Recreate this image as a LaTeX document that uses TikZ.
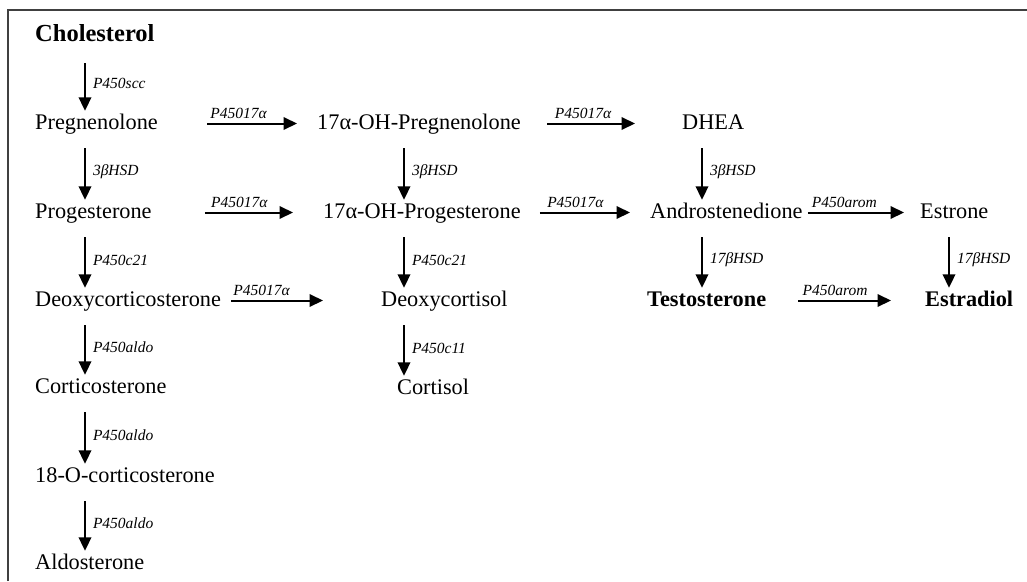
\documentclass[tikz,border=0pt]{standalone}
\usepackage{fontspec}
\setmainfont{Liberation Serif}
\usetikzlibrary{arrows.meta}
\begin{document}
\begin{tikzpicture}[x=1pt,y=-1pt,
  chem/.style={anchor=base west, inner sep=0pt, text height=16pt, text depth=5pt, font=\fontsize{22.3}{26}\selectfont},
  chemb/.style={chem, font=\fontsize{22.3}{26}\selectfont\bfseries},
  arr/.style={line width=2pt, -{Triangle[width=12.5pt,length=13.5pt]}},
  varr/.style={arr, shorten <=14pt, shorten >=2pt},
  enz/.style={font=\fontsize{15.5}{18}\selectfont\itshape, inner sep=0pt},
  venz/.style={enz, anchor=west, xshift=7pt, yshift=-3.5pt},
  henz/.style={enz, anchor=south, yshift=3.5pt}]
\useasboundingbox (0,0) rectangle (1027,581);
\draw[line width=1.2pt, black!75] (8,581) -- (8,10) -- (1027,10);

% compounds
\node[chem, font=\fontsize{24.5}{28}\selectfont\bfseries] (chol) at (35,41) {Cholesterol};
\node[chem] (preg) at (35,129) {Pregnenolone};
\node[chem] (prog) at (35,218) {Progesterone};
\node[chem] (doc) at (35,306) {Deoxycorticosterone};
\node[chem] (cort) at (35,393) {Corticosterone};
\node[chem] (ooc) at (35,482) {18-O-corticosterone};
\node[chem] (aldo) at (35,569) {Aldosterone};
\node[chem] (p17) at (317,129) {17α-OH-Pregnenolone};
\node[chem] (pg17) at (323,218) {17α-OH-Progesterone};
\node[chem] (dcol) at (381,306) {Deoxycortisol};
\node[chem] (cortisol) at (397,394) {Cortisol};
\node[chem] (dhea) at (682,129) {DHEA};
\node[chem] (andro) at (650,218) {Androstenedione};
\node[chemb] (testo) at (647,306) {Testosterone};
\node[chem] (estrone) at (920,218) {Estrone};
\node[chemb] (estradiol) at (925,306) {Estradiol};

% arrow columns
\coordinate (c1) at (85,0);
\coordinate (c2) at (404,0);
\coordinate (c3) at (702,0);
\coordinate (c4) at (949,0);

% vertical arrows
\draw[varr, shorten <=17pt] (chol.south -| c1) -- (preg.north -| c1) node[venz, midway]{P450scc};
\draw[varr] (preg.south -| c1) -- (prog.north -| c1) node[venz, midway]{3βHSD};
\draw[varr] (prog.south -| c1) -- (doc.north -| c1) node[venz, midway]{P450c21};
\draw[varr] (doc.south -| c1) -- (cort.north -| c1) node[venz, midway]{P450aldo};
\draw[varr] (cort.south -| c1) -- (ooc.north -| c1) node[venz, midway]{P450aldo};
\draw[varr] (ooc.south -| c1) -- (aldo.north -| c1) node[venz, midway]{P450aldo};
\draw[varr] (p17.south -| c2) -- (pg17.north -| c2) node[venz, midway]{3βHSD};
\draw[varr] (pg17.south -| c2) -- (dcol.north -| c2) node[venz, midway]{P450c21};
\draw[varr] (dcol.south -| c2) -- (cortisol.north -| c2) node[venz, midway]{P450c11};
\draw[varr] (dhea.south -| c3) -- (andro.north -| c3) node[venz, midway]{3βHSD};
\draw[varr] (andro.south -| c3) -- (testo.north -| c3) node[venz, midway]{17βHSD};
\draw[varr] (estrone.south -| c4) -- (estradiol.north -| c4) node[venz, midway]{17βHSD};

% horizontal arrows
\draw[arr, shorten <=49pt, shorten >=20pt] (preg.east) -- (p17.west) node[henz, midway, xshift=1pt]{P45017α};
\draw[arr, shorten <=26pt, shorten >=47pt] (p17.east) -- (dhea.west) node[henz, midway, xshift=-18.5pt]{P45017α};
\draw[arr, shorten <=53pt, shorten >=30pt] (prog.east) -- (pg17.west) node[henz, midway, xshift=2pt]{P45017α};
\draw[arr, shorten <=19pt, shorten >=20pt] (pg17.east) -- (andro.west) node[henz, midway, xshift=-10pt]{P45017α};
\draw[arr, shorten <=5pt, shorten >=16pt] (andro.east) -- (estrone.west) node[henz, midway, xshift=-17pt]{P450arom};
\draw[arr, shorten <=10pt, shorten >=58pt] (doc.east) -- (dcol.west) node[henz, midway, xshift=-39.5pt]{P45017α};
\draw[arr, shorten <=32pt, shorten >=34pt] (testo.east) -- (estradiol.west) node[henz, midway, xshift=-10.5pt]{P450arom};
\end{tikzpicture}
\end{document}
